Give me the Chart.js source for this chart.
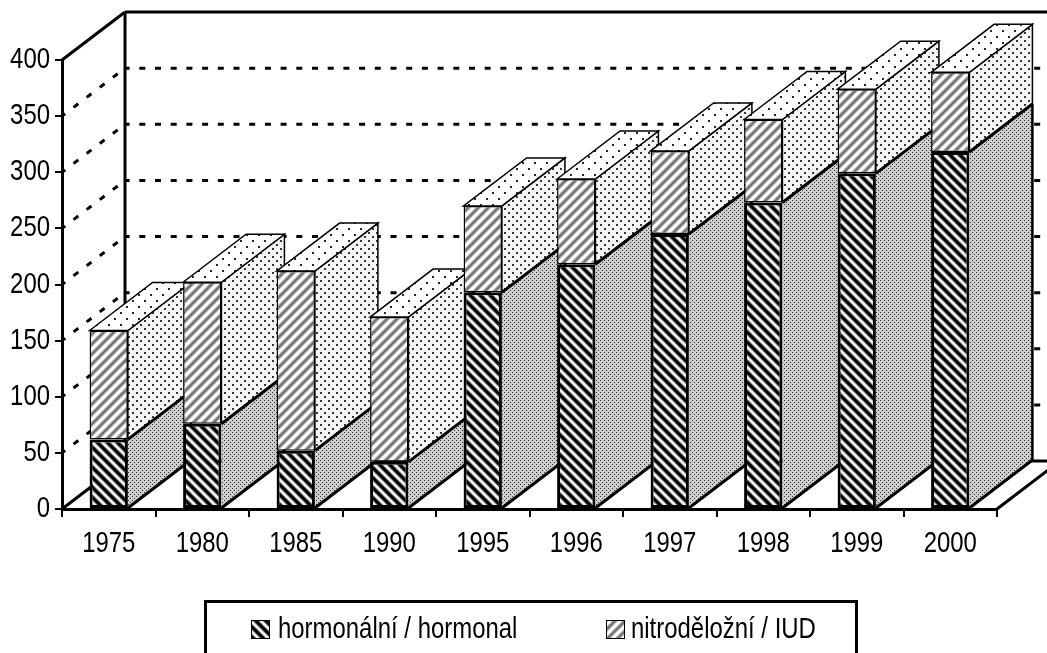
<!DOCTYPE html>
<html><head><meta charset="utf-8">
<style>html,body{margin:0;padding:0;background:#fff;overflow:hidden}canvas{display:block}</style>
<script src="https://cdn.jsdelivr.net/npm/chart.js@4"></script>
</head><body>
<canvas id="c" width="1047" height="653"></canvas>
<script>
const categories = ['1975','1980','1985','1990','1995','1996','1997','1998','1999','2000'];
const hormonal = [62,76,52,42,193,218,245,273,299,318];
const iud = [97,126,160,129,77,76,74,74,75,71];
const seriesNames = ['hormonální / hormonal','nitroděložní / IUD'];
const FONT = '"Liberation Sans",Arial,sans-serif';
const DX = 63, DY = 48, TEXT_SQUEEZE = 0.825;

function texture(size, fn){
  const cv = document.createElement('canvas'); cv.width = cv.height = size;
  const g = cv.getContext('2d'), im = g.createImageData(size,size);
  for(let y=0;y<size;y++)for(let x=0;x<size;x++){
    const v = Math.max(0,Math.min(255,Math.round(fn(x,y)))), i=(y*size+x)*4;
    im.data[i]=im.data[i+1]=im.data[i+2]=v; im.data[i+3]=255;
  }
  g.putImageData(im,0,0);
  return g.createPattern(cv,'repeat');
}
const ctx0 = document.getElementById('c').getContext('2d');
// narrow, tall lettering as in the reference: squeeze every label horizontally about its anchor
const rawFillText = ctx0.fillText.bind(ctx0);
ctx0.fillText = function(t,x,y){
  ctx0.save(); ctx0.translate(x,y); ctx0.scale(TEXT_SQUEEZE,1); rawFillText(t,0,0); ctx0.restore();
};
const patHorm = texture(10,(x,y)=>105+155*Math.cos(2*Math.PI*(x-y)/10));
const patIud = texture(10,(x,y)=>195+85*Math.cos(2*Math.PI*(x+y)/10));
const dots = (n,dark,light,sz)=>texture(n,(x,y)=>{
  const h=n/2, a=(x<sz&&y<sz), b=(x>=h&&x<h+sz&&y>=h&&y<h+sz);
  return (a||b)?dark:light;
});
const patSideH = dots(4,50,205,1);
const patSideI = dots(8,55,245,2);
const patTop = dots(12,40,255,2);

function poly(c,pts,fill,lw){
  c.beginPath(); pts.forEach((p,i)=>i?c.lineTo(p[0],p[1]):c.moveTo(p[0],p[1])); c.closePath();
  c.fillStyle=fill; c.fill(); c.lineWidth=lw; c.strokeStyle='#000'; c.stroke();
}
function line(c,x1,y1,x2,y2,lw,dash,off){
  c.beginPath(); c.moveTo(x1,y1); c.lineTo(x2,y2); c.lineWidth=lw; c.strokeStyle='#000';
  c.setLineDash(dash||[]); c.lineDashOffset=off||0; c.stroke(); c.setLineDash([]); c.lineDashOffset=0;
}
const depth3d = {
  id:'depth3d',
  beforeDatasetsDraw(chart){
    const c=chart.ctx, {x:xs,y:ys}=chart.scales, L=xs.left, R=xs.right;
    c.save();
    const W=chart.width;
    ys.ticks.forEach(t=>{
      const y=ys.getPixelForValue(t.value);
      if(t.value===0||t.value===400) return;
      line(c,L,y,L+DX,y-DY,3,[6,10.5],2);
      line(c,L+DX,y-DY,R+DX,y-DY,3,[6,9.7],1.4);
    });
    const top=ys.getPixelForValue(400), base=ys.getPixelForValue(0);
    line(c,L,top,L+DX,top-DY,3);
    line(c,L+DX,top-DY,W,top-DY,3);
    line(c,L+DX,top-DY,L+DX,base-DY,3);
    line(c,L,base,L+DX,base-DY,3);
    line(c,L+DX,base-DY,W,base-DY,3);
    line(c,R,base,R+DX,base-DY,3);
    const m0=chart.getDatasetMeta(0).data, m1=chart.getDatasetMeta(1).data;
    categories.forEach((_,i)=>{
      const a=m0[i], b=m1[i], r=a.x+a.width/2, l=a.x-a.width/2;
      const y0=a.base, yh=a.y, yt=b.y;
      poly(c,[[r,yh],[r+DX,yh-DY],[r+DX,yt-DY],[r,yt]],patSideI,1.5);
      poly(c,[[l,yt],[l+DX,yt-DY],[r+DX,yt-DY],[r,yt]],patTop,1.5);
      poly(c,[[r,y0],[r+DX,y0-DY],[r+DX,yh-DY],[r,yh]],patSideH,0.01);
      line(c,r,y0,r+DX,y0-DY,3);
      line(c,r,yh,r+DX,yh-DY,3);
      line(c,r+DX,y0-DY,r+DX,yh-DY,2.5);
    });
    c.restore();
  },
  afterDraw(chart){
    const c=chart.ctx, ds=chart.data.datasets;
    c.save();
    c.strokeStyle='#000'; c.lineWidth=3;
    c.beginPath(); c.moveTo(205.5,660); c.lineTo(205.5,601.5); c.lineTo(856.5,601.5); c.lineTo(856.5,660); c.stroke();
    const items=[[251,278],[606,631]];
    c.font='29px '+FONT; c.textBaseline='middle'; c.textAlign='left';
    ds.forEach((d,i)=>{
      c.fillStyle=d.backgroundColor; c.fillRect(items[i][0],620,19,19);
      c.lineWidth=1; c.strokeStyle='#000'; c.strokeRect(items[i][0]+.5,620.5,18,18);
      c.fillStyle='#000'; c.fillText(d.label,items[i][1],630);
    });
    c.restore();
  }
};
new Chart(document.getElementById('c'),{
  type:'bar',
  data:{labels:categories,datasets:[
    {label:seriesNames[0],data:hormonal,backgroundColor:patHorm,borderColor:'#000',borderWidth:3,borderSkipped:false},
    {label:seriesNames[1],data:iud,backgroundColor:patIud,borderColor:'#000',borderWidth:1.5,borderSkipped:false}
  ]},
  plugins:[depth3d],
  options:{
    responsive:false,animation:false,
    layout:{padding:{left:2,right:50,top:60,bottom:100}},
    datasets:{bar:{barPercentage:1,categoryPercentage:0.41}},
    plugins:{legend:{display:false},tooltip:{enabled:false},title:{display:false}},
    scales:{
      x:{stacked:true,
        afterFit(s){s.height=44;},
        border:{color:'#000',width:3},
        grid:{drawOnChartArea:false,drawTicks:true,tickLength:8,color:'#000',lineWidth:2},
        ticks:{color:'#000',font:{family:FONT,size:29},padding:10,maxRotation:0}},
      y:{stacked:true,min:0,max:400,
        afterFit(s){s.width=60;},
        border:{color:'#000',width:3},
        grid:{drawOnChartArea:false,drawTicks:true,tickLength:7,color:'#000',lineWidth:2},
        ticks:{color:'#000',stepSize:50,font:{family:FONT,size:29},padding:5}}
    }
  }
});
</script>
</body></html>
